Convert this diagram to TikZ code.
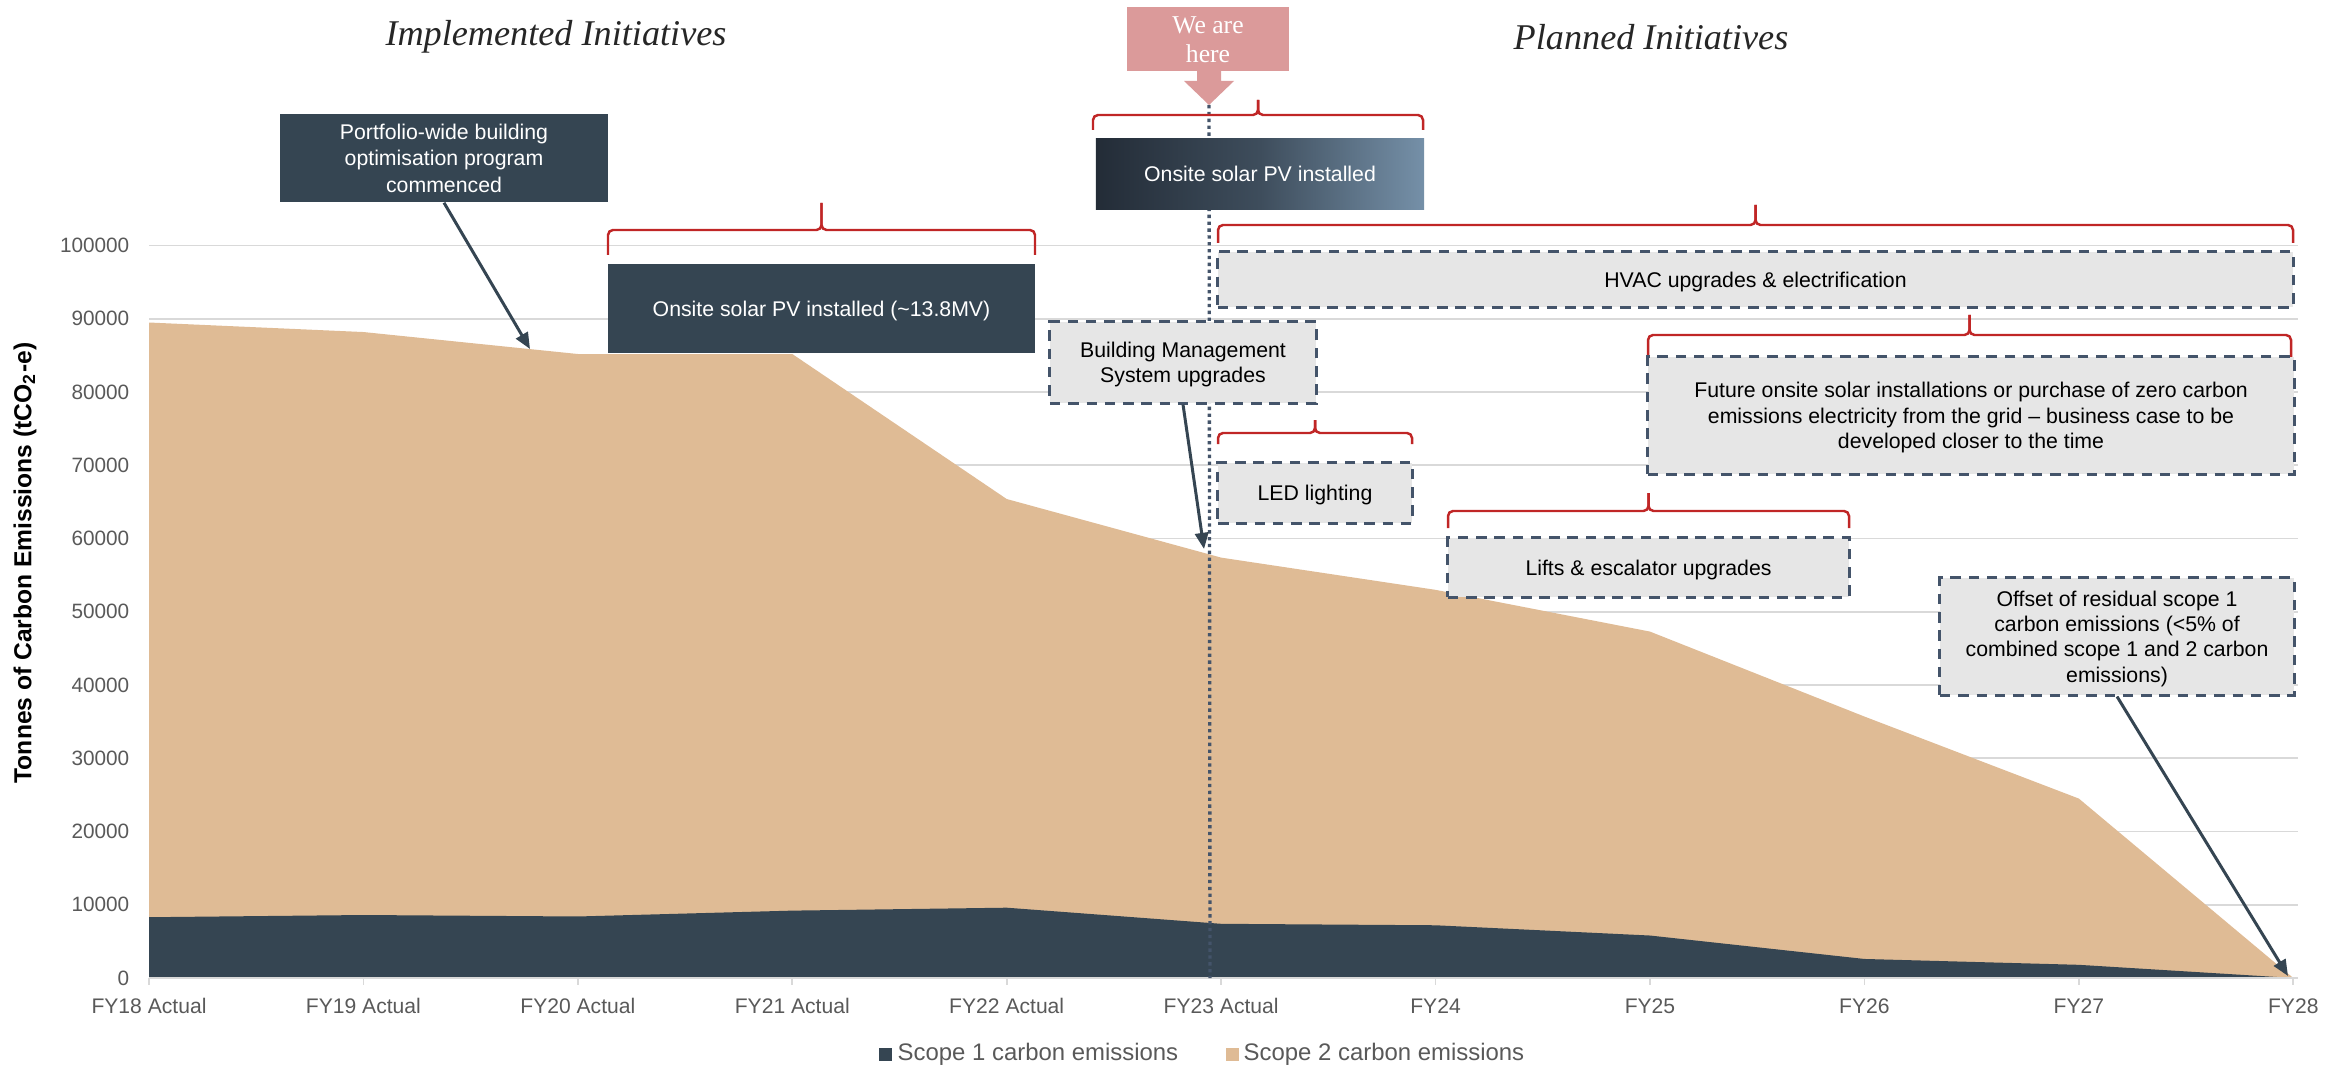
\documentclass[tikz,border=0pt]{standalone}
\usepackage{fontspec}
\setmainfont{Liberation Sans}
\newfontfamily\serifa{Liberation Serif}
\usetikzlibrary{arrows.meta}
\definecolor{areia}{RGB}{223,187,149}
\definecolor{ardosia}{RGB}{53,69,82}
\definecolor{grade}{RGB}{217,217,217}
\definecolor{caixa}{RGB}{230,230,230}
\definecolor{borda}{RGB}{68,84,106}
\definecolor{chave}{RGB}{192,38,38}
\definecolor{rosa}{RGB}{219,154,154}
\definecolor{rotulo}{RGB}{89,89,89}
\definecolor{gradesq}{RGB}{35,44,55}
\definecolor{gradmeio}{RGB}{62,77,92}
\definecolor{graddir}{RGB}{117,144,168}
\newcommand{\caixafonte}{\fontsize{6.05}{7.2}\selectfont}
\newcommand{\chaveta}[5]{% x1, x2, linha, pontas, bico
  \draw[chavestilo] (#1,#4) |- ({(#1+#2)/2},#3) -- ({(#1+#2)/2},#5);
  \draw[chavestilo] (#2,#4) |- ({(#1+#2)/2},#3) -- ({(#1+#2)/2},#5);}
\begin{document}
\begin{tikzpicture}[x=0.01cm, y=-0.01cm, %1 unidade = 1 pixel
    escura/.style={fill=ardosia, text=white, inner sep=0, text depth=0pt, align=center, font=\fontsize{6.05}{7.5}\selectfont},
    tracejada/.style={fill=caixa, draw=borda, line width=0.85pt, dash pattern=on 3pt off 2.2pt, inner sep=0, text depth=0pt, align=center, font=\caixafonte},
    chavestilo/.style={draw=chave, line width=0.7pt, rounded corners=0.05cm},
    seta/.style={draw=ardosia, line width=0.85pt, -{Triangle[length=4.6pt,width=3.8pt]}},
    rotx/.style={text=rotulo, font=\fontsize{6}{7}\selectfont, anchor=base},
    roty/.style={text=rotulo, font=\fontsize{5.9}{7}\selectfont, anchor=east, inner sep=0},
    legenda/.style={text=rotulo, font=\fontsize{6.8}{8}\selectfont, anchor=west, inner sep=0},
    titulo/.style={font=\serifa\itshape\fontsize{10.3}{12}\selectfont, text=black!85}]
\useasboundingbox (0,0) rectangle (2349,1067);
	%Grafico de areas
\begin{scope}[shift={(149,978)}, x=2.143cm, y=0.0732cm]
  \foreach \v in {10,20,...,100}
    \draw[grade, line width=0.5pt] (0,\v) -- (10.02,\v); %Grade
  \fill[areia] (0,0) -- (0,89.5) -- (1,88.2) -- (2,85.2) -- (3,85.2) -- (4,65.4) -- (5,57.4) -- (6,53.0) -- (7,47.3) -- (8,35.7) -- (9,24.5) -- (10,0) -- cycle; %Escopo 2
  \fill[ardosia] (0,0) -- (0,8.3) -- (1,8.6) -- (2,8.4) -- (3,9.2) -- (4,9.6) -- (5,7.4) -- (6,7.2) -- (7,5.8) -- (8,2.6) -- (9,1.8) -- (10,0) -- cycle; %Escopo 1
  \draw[grade, line width=0.5pt] (0,0) -- (10.02,0); %Eixo
  \foreach \i in {0,...,10}
    \draw[grade, line width=0.5pt] (\i,0) -- ++(0,-0.07cm);
  \foreach \i/\t in {0/FY18 Actual, 1/FY19 Actual, 2/FY20 Actual, 3/FY21 Actual, 4/FY22 Actual, 5/FY23 Actual, 6/FY24, 7/FY25, 8/FY26, 9/FY27, 10/FY28}
    \node[rotx] (fy\i) at (\i,0) [yshift=-0.35cm] {\t};
  \foreach \v/\t in {0/0, 10/10000, 20/20000, 30/30000, 40/40000, 50/50000, 60/60000, 70/70000, 80/80000, 90/90000, 100/100000}
    \node[roty] (y\v) at (0,\v) [xshift=-0.19cm] {\t};
\end{scope}
\node[rotate=90, font=\bfseries\fontsize{7}{8}\selectfont] (ytitulo) at (25,563) {Tonnes of Carbon Emissions (tCO\textsubscript{2}-e)};
	%Titulos
\node[titulo] (implementadas) at (556,37) {Implemented Initiatives};
\node[titulo] (planejadas) at (1651,37) {Planned Initiatives};
	%Marcador de hoje
\coordinate (ponta) at (1209,105);
\coordinate (chao) at (1210,978);
\draw[borda, line width=0.95pt, dash pattern=on 0.95pt off 1pt] (ponta) -- (chao);
\fill[rosa] (1127,7) rectangle (1289,71);
\fill[rosa] (1197,71) -- (1197,81) -- (1184,81) -- (ponta) -- (1234,81) -- (1221,81) -- (1221,71) -- cycle;
\node[text=white, align=center, font=\serifa\fontsize{7.3}{8.2}\selectfont] (aqui) at (1208,40) {We are\\here};
	%Chaves
\chaveta{608}{1035}{230}{255}{203}
\chaveta{1093}{1423}{115}{130}{100}
\chaveta{1218}{2293}{225}{243}{205}
\chaveta{1648}{2291}{335}{357}{315}
\chaveta{1218}{1412}{433}{444}{420}
\chaveta{1448}{1849}{511}{528}{493}
	%Caixas
\node[escura, minimum width=3.28cm, minimum height=0.88cm] (programa) at (444,158) {Portfolio-wide building\\optimisation program\\commenced};
\node[escura, minimum width=4.27cm, minimum height=0.89cm] (solarA) at (821.5,308.5) {Onsite solar PV installed (\textasciitilde13.8MV)};
\node[minimum width=3.28cm, minimum height=0.70cm, inner sep=0, text depth=0pt, left color=gradesq, right color=graddir, middle color=gradmeio, text=white, font=\caixafonte] (solarB) at (1260,174) {Onsite solar PV installed};
\node[tracejada, minimum width=2.66cm, minimum height=0.81cm] (gestao) at (1183,362.5) {Building Management\\System upgrades};
\node[tracejada, minimum width=1.94cm, minimum height=0.60cm] (led) at (1315,493) {LED lighting};
\node[tracejada, minimum width=10.75cm, minimum height=0.55cm] (hvac) at (1755.5,279.5) {HVAC upgrades \& electrification};
\node[tracejada, minimum width=6.46cm, minimum height=1.17cm] (futuro) at (1971,415.5) {Future onsite solar installations or purchase of zero carbon\\emissions electricity from the grid -- business case to be\\developed closer to the time};
\node[tracejada, minimum width=4.01cm, minimum height=0.59cm] (elevadores) at (1648.5,567.5) {Lifts \& escalator upgrades};
\node[tracejada, minimum width=3.54cm, minimum height=1.17cm] (compensa) at (2117,636.5) {Offset of residual scope 1\\carbon emissions (<5\% of\\combined scope 1 and 2 carbon\\emissions)};
	%Setas
\coordinate (alvo1) at (530,349);
\coordinate (alvo2) at (1204,549);
\coordinate (alvo3) at (2288,976);
\draw[seta] (programa.south) -- (alvo1);
\draw[seta] (gestao.south) -- (alvo2);
\draw[seta] (compensa.south) -- (alvo3);
	%Legenda
\node[fill=ardosia, minimum size=0.13cm, inner sep=0] (quad1) at (885.5,1054) {};
\node[legenda] (leg1) at (897,1054) {Scope 1 carbon emissions};
\node[fill=areia, minimum size=0.13cm, inner sep=0] (quad2) at (1232.5,1054) {};
\node[legenda] (leg2) at (1243,1054) {Scope 2 carbon emissions};
\end{tikzpicture}
\end{document}
